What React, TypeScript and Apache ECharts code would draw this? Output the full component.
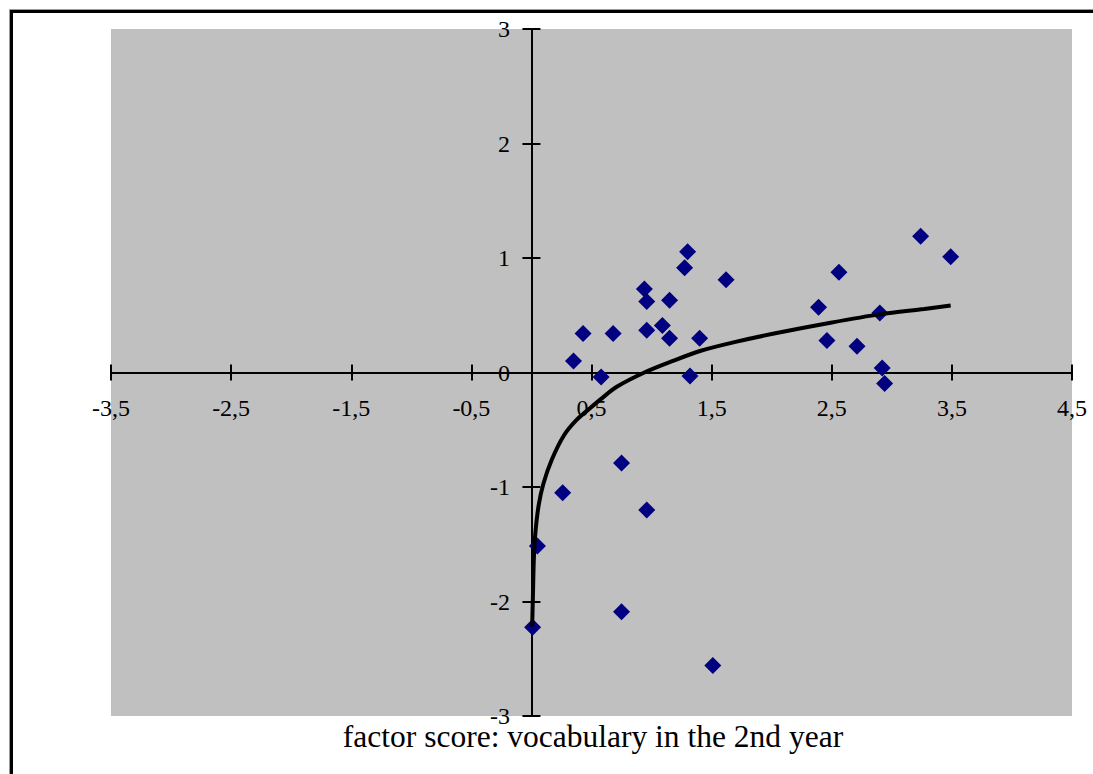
import React, { useEffect, useRef } from "react";
import * as echarts from "echarts";

// Scatter data: factor score vocabulary (x) vs outcome (y)
const pointX = [
  0.35, 0.43, 0.68, 0.58, 0.94, 0.96, 0.96, 1.09, 1.15, 1.15, 1.30, 1.275, 1.62, 1.40, 1.32,
  3.24, 3.49, 2.56, 2.39, 2.90, 2.46, 2.71, 2.92, 2.94,
  0.75, 0.26, 0.96, 0.05, 0.75, 0.01, 1.51,
];
const pointY = [
  0.10, 0.34, 0.34, -0.04, 0.73, 0.62, 0.37, 0.41, 0.63, 0.30, 1.055, 0.915, 0.81, 0.30, -0.03,
  1.19, 1.01, 0.875, 0.57, 0.52, 0.28, 0.23, 0.04, -0.095,
  -0.79, -1.05, -1.20, -1.515, -2.09, -2.225, -2.56,
];

// Logarithmic trend line
const trendX = [0.006, 0.014, 0.02, 0.033, 0.06, 0.10, 0.17, 0.27, 0.37, 0.49, 0.575, 0.71, 0.94, 1.16, 1.41, 1.69, 2.02, 2.49, 2.91, 3.27, 3.49];
const trendY = [-2.22, -1.88, -1.63, -1.40, -1.16, -0.97, -0.76, -0.55, -0.42, -0.31, -0.235, -0.125, 0.0, 0.094, 0.19, 0.265, 0.34, 0.435, 0.51, 0.555, 0.585];

const xTickValues = [-3.5, -2.5, -1.5, -0.5, 0.5, 1.5, 2.5, 3.5, 4.5];
const xMin = -3.5;
const xMax = 4.5;
const yMin = -3;
const yMax = 3;
const yInterval = 1;

const xTitle = "factor score: vocabulary in the 2nd year";

const FONT = '"Liberation Serif", "Times New Roman", serif';

export default function App() {
  const ref = useRef<HTMLDivElement>(null);

  useEffect(() => {
    if (!ref.current) return;
    const chart = echarts.init(ref.current, undefined, { renderer: "svg" });

    const axisLineStyle = { color: "#000", width: 2 };
    const fmt = (v: number) => String(v).replace(".", ",");

    const option: any = {
      animation: false,
      backgroundColor: "#fff",
      title: {
        text: xTitle,
        left: 593,
        top: 726,
        textAlign: "center",
        padding: 0,
        textStyle: {
          fontFamily: FONT,
          fontSize: 31.5,
          lineHeight: 20,
          fontWeight: "normal",
          color: "#000",
        },
      },
      grid: {
        left: 111,
        top: 29,
        width: 961,
        height: 687,
        show: true,
        backgroundColor: "#c0c0c0",
        borderWidth: 0,
        containLabel: false,
        outerBoundsMode: "none",
      },
      graphic: [
        {
          type: "rect",
          silent: true,
          shape: { x: 9.5, y: 9.5, width: 1200, height: 900 },
          style: { fill: "none", stroke: "#999", lineWidth: 1 },
        },
        {
          type: "rect",
          silent: true,
          shape: { x: 11.5, y: 11.5, width: 1200, height: 900 },
          style: { fill: "none", stroke: "#000", lineWidth: 3 },
        },
      ],
      xAxis: [
        {
          type: "value",
          min: xMin,
          max: xMax,
          position: "bottom",
          axisLine: { onZero: true, lineStyle: axisLineStyle },
          axisTick: { show: true, customValues: xTickValues, length: 8, lineStyle: axisLineStyle },
          axisLabel: {
            customValues: xTickValues,
            formatter: fmt,
            margin: -320,
            fontFamily: FONT,
            fontSize: 24,
            color: "#000",
          },
          splitLine: { show: false },
        },
        {
          type: "value",
          min: xMin,
          max: xMax,
          position: "top",
          axisLine: { onZero: true, lineStyle: axisLineStyle },
          axisTick: { show: true, customValues: xTickValues, length: 8, lineStyle: axisLineStyle },
          axisLabel: { show: false },
          splitLine: { show: false },
        },
      ],
      yAxis: [
        {
          type: "value",
          min: yMin,
          max: yMax,
          interval: yInterval,
          position: "left",
          axisLine: { onZero: true, lineStyle: axisLineStyle },
          axisTick: { show: true, length: 9, lineStyle: axisLineStyle },
          axisLabel: {
            margin: -399,
            fontFamily: FONT,
            fontSize: 24,
            lineHeight: 16,
            color: "#000",
          },
          splitLine: { show: false },
        },
        {
          type: "value",
          min: yMin,
          max: yMax,
          interval: yInterval,
          position: "right",
          axisLine: { onZero: true, lineStyle: axisLineStyle },
          axisTick: { show: true, length: 9, lineStyle: axisLineStyle },
          axisLabel: { show: false },
          splitLine: { show: false },
        },
      ],
      series: [
        {
          type: "scatter",
          xAxisIndex: 0,
          yAxisIndex: 0,
          symbol: "diamond",
          symbolSize: 17,
          itemStyle: { color: "#000080", opacity: 1 },
          data: pointX.map((x, i) => [x, pointY[i]]),
          z: 3,
        },
        {
          type: "line",
          xAxisIndex: 0,
          yAxisIndex: 0,
          showSymbol: false,
          symbol: "none",
          smooth: 0.3,
          lineStyle: { color: "#000", width: 4 },
          data: trendX.map((x, i) => [x, trendY[i]]),
          z: 4,
        },
      ],
    };

    chart.setOption(option);
    return () => chart.dispose();
  }, []);

  return (
    <div
      ref={ref}
      style={{ position: "absolute", left: 0, top: 0, width: 1093, height: 774 }}
    />
  );
}
